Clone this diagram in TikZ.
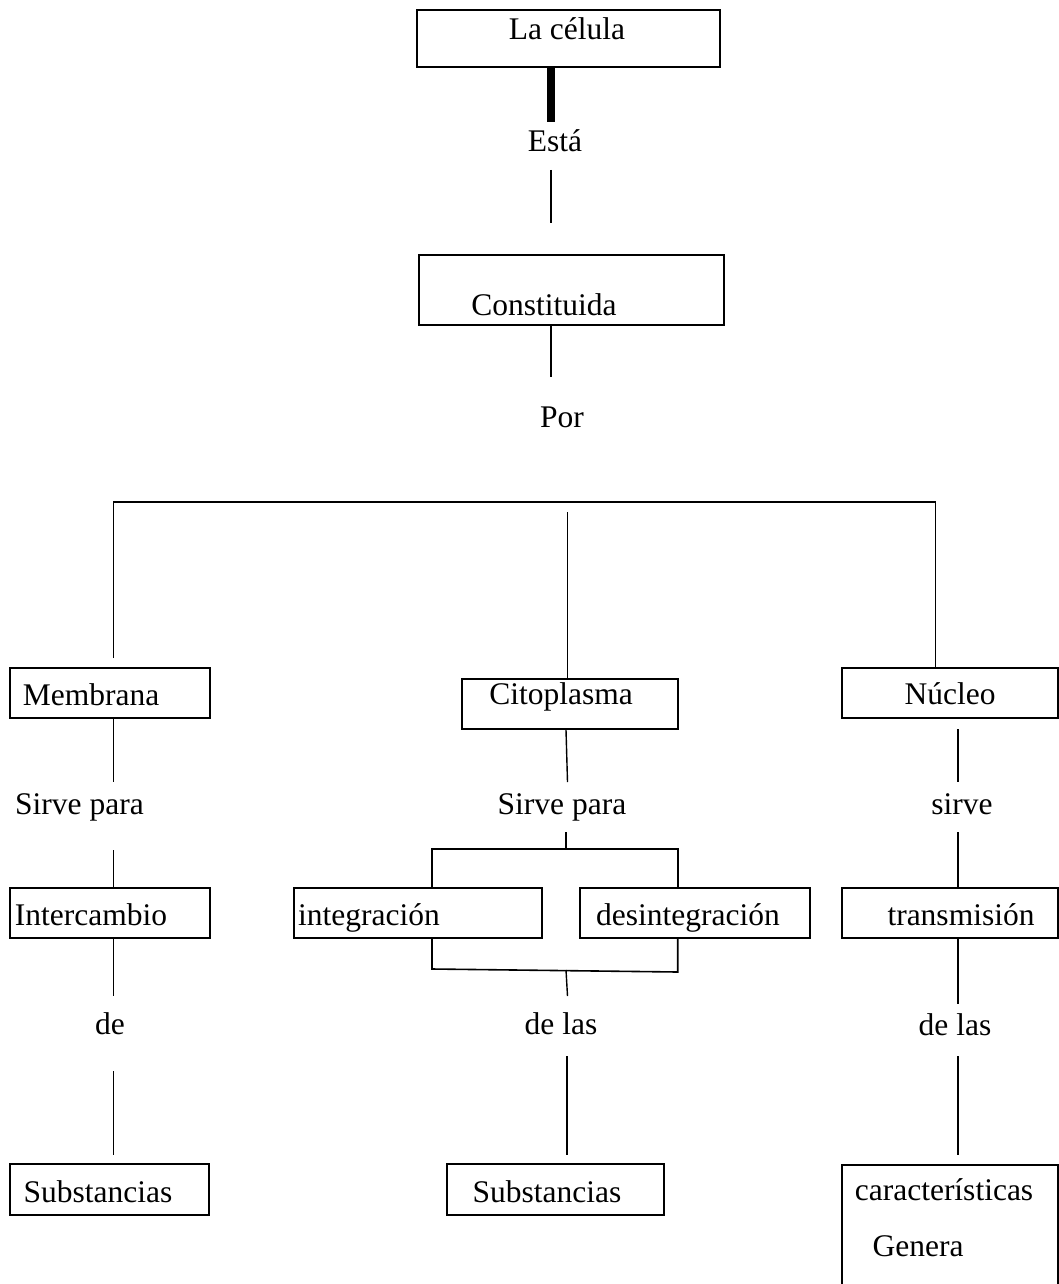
\documentclass[tikz,border=0pt]{standalone}
\usepackage{fontspec}
\setmainfont{Liberation Serif}
\begin{document}
\begin{tikzpicture}[x=1pt,y=-1pt,
  box/.style={draw, line width=1.8pt, inner sep=0pt},
  lbl/.style={anchor=base, inner sep=0pt, font=\fontsize{31.5}{36}\selectfont},
  conn/.style={line width=1.4pt},
  thickbar/.style={line width=8pt}]
\clip (0,0) rectangle (1059,1284);
\fill[white] (0,0) rectangle (1059,1284);

% boxes
\node[box, minimum width=303pt, minimum height=57pt] (celula) at (568.5,38.5) {};
\node[box, minimum width=305pt, minimum height=70pt] (constituida) at (571.5,290) {};
\node[box, minimum width=200pt, minimum height=50pt] (membrana) at (110,693) {};
\node[box, minimum width=216pt, minimum height=50pt] (citoplasma) at (570,704) {};
\node[box, minimum width=216pt, minimum height=50pt] (nucleo) at (950,693) {};
\node[box, minimum width=200pt, minimum height=50pt] (intercambio) at (110,913) {};
\node[box, minimum width=248pt, minimum height=50pt] (integracion) at (418,913) {};
\node[box, minimum width=230pt, minimum height=50pt] (desintegracion) at (695,913) {};
\node[box, minimum width=216pt, minimum height=50pt] (transmision) at (950,913) {};
\node[box, minimum width=199pt, minimum height=51pt] (subsA) at (109.5,1189.5) {};
\node[box, minimum width=217pt, minimum height=51pt] (subsB) at (555.5,1189.5) {};
\node[box, minimum width=216pt, minimum height=155pt] (caract) at (950,1242.5) {};

% texts
\node[lbl] (tcelula) at (567,40) {La célula};
\node[lbl] (esta) at (555,152) {Está};
\node[lbl] (tconst) at (544,315) {Constituida};
\node[lbl] (por) at (562,427) {Por};
\node[lbl] (tmemb) at (91,705) {Membrana};
\node[lbl] (tcito) at (561,704) {Citoplasma};
\node[lbl] (tnuc) at (950,704) {Núcleo};
\node[lbl] (sirveA) at (79.5,814) {Sirve para};
\node[lbl] (sirveB) at (562,814) {Sirve para};
\node[lbl] (sirveC) at (962,814) {sirve};
\node[lbl] (tinter) at (91,925) {Intercambio};
\node[lbl] (tinteg) at (369,925) {integración};
\node[lbl] (tdesint) at (688,925) {desintegración};
\node[lbl] (ttrans) at (961,925) {transmisión};
\node[lbl] (deA) at (110,1034) {de};
\node[lbl] (deB) at (561,1034) {de las};
\node[lbl] (deC) at (955,1035) {de las};
\node[lbl] (tsubsA) at (98,1202) {Substancias};
\node[lbl] (tsubsB) at (547,1202) {Substancias};
\node[lbl] (tcar) at (944,1200) {características};
\node[lbl] (tgen) at (918,1256) {Genera};

% connector end points
\coordinate (bar1) at (551,122);
\coordinate (l2a) at (551,170);
\coordinate (l2b) at (551,223);
\coordinate (l3) at (551,377);
\coordinate (t1) at (113.5,658);
\coordinate (tl) at (113.5,502);
\coordinate (tr) at (935.5,502);
\coordinate (tm) at (567.5,512);
\coordinate (m1) at (113.5,782);
\coordinate (ca) at (567.5,782);
\coordinate (n1) at (958,729);
\coordinate (n2) at (958,782);
\coordinate (m2) at (113.5,850);
\coordinate (c2) at (566,832);
\coordinate (bl) at (432,849);
\coordinate (br) at (677.7,849);
\coordinate (n3) at (958,832);
\coordinate (m3) at (113.5,996);
\coordinate (bb1) at (432,969);
\coordinate (bb2) at (677.7,972);
\coordinate (c4) at (566,970);
\coordinate (c5) at (567.5,996);
\coordinate (n4) at (958,1004);
\coordinate (m4) at (113.5,1071);
\coordinate (m5) at (113.5,1155);
\coordinate (c6) at (567,1056);
\coordinate (c7) at (567,1155);
\coordinate (n5) at (958,1056);
\coordinate (n6) at (958,1155);

% connectors
\draw[thickbar] ([yshift=1pt]celula.south -| bar1) -- (bar1);
\draw[conn] (l2a) -- (l2b);
\draw[conn] (constituida.south -| l3) -- (l3);
\draw[line width=1.8pt] (t1) -- (tl) -- (tr) -- (nucleo.north -| tr);
\draw[conn] (tm) -- (citoplasma.north -| tm);
\draw[conn] (membrana.south -| m1) -- (m1);
\draw[conn] ([xshift=-1.5pt]citoplasma.south -| ca) -- (ca);
\draw[conn] (n1) -- (n2);
\draw[conn] (m2) -- (intercambio.north -| m2);
\draw[conn] (c2) -- (bl -| c2);
\draw[line width=1.6pt] (integracion.north -| bl) -- (bl) -- (br) -- (desintegracion.north -| br);
\draw[conn] (n3) -- (transmision.north -| n3);
\draw[conn] (intercambio.south -| m3) -- (m3);
\draw[line width=1.6pt] (integracion.south -| bb1) -- (bb1) -- (bb2) -- (desintegracion.south -| bb2);
\draw[conn] (c4) -- (c5);
\draw[conn] (transmision.south -| n4) -- (n4);
\draw[conn] (m4) -- (m5);
\draw[conn] (c6) -- (c7);
\draw[conn] (n5) -- (n6);
\end{tikzpicture}
\end{document}
